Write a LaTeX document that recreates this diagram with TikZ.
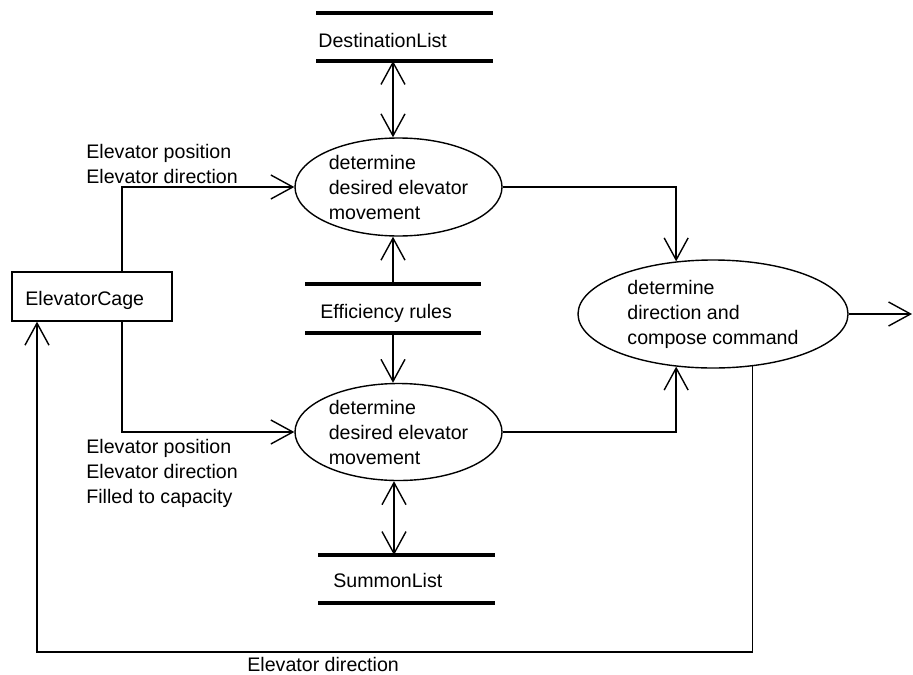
\documentclass[tikz,border=0pt]{standalone}
\usepackage{fontspec}
\setmainfont{Liberation Sans}
\usetikzlibrary{arrows.meta,shapes.geometric}
\tikzset{
  txt/.style={font=\fontsize{9.8pt}{12.5pt}\selectfont, inner sep=0pt, align=left},
  proc/.style={draw, ellipse, line width=0.7pt, inner sep=0pt,
    font=\fontsize{9.8pt}{12.5pt}\selectfont, align=left},
  ext/.style={draw, rectangle, line width=0.7pt, inner sep=0pt},
  storeline/.style={line width=2.4pt},
  flow/.style={line width=0.7pt, -{Straight Barb[length=11pt,width=12pt,line width=0.7pt]}},
  bflow/.style={line width=0.7pt, {Straight Barb[length=11pt,width=12pt,line width=0.7pt]}-{Straight Barb[length=11pt,width=12pt,line width=0.7pt]}}
}
\begin{document}
\begin{tikzpicture}[x=0.5pt,y=-0.5pt]
\useasboundingbox (0,0) rectangle (913,674);

% data stores
\draw[storeline] (316,13) -- (493,13);
\draw[storeline] (316,61) -- (493,61);
\node[txt, anchor=base west] (dest) at (318,47) {DestinationList};
\coordinate (destB) at (393,61);

\draw[storeline] (305,284) -- (481,284);
\draw[storeline] (305,333) -- (481,333);
\node[txt, anchor=base west] (eff) at (320,318) {Efficiency rules};
\coordinate (effT) at (393,284);
\coordinate (effB) at (393,333);

\draw[storeline] (318,555) -- (495,555);
\draw[storeline] (318,603) -- (495,603);
\node[txt, anchor=base west] (summ) at (333,587) {SummonList};
\coordinate (summT) at (394,555);

% external entity
\node[ext, minimum width=80pt, minimum height=24.5pt] (cage) at (92,296.5) {};
\node[txt, anchor=base west] (cagetxt) at (25,305) {ElevatorCage};

% processes
\node[proc, minimum width=103.5pt, minimum height=49pt] (e1) at (398.5,187)
  {determine\\desired elevator\\movement};
\node[proc, minimum width=103.5pt, minimum height=48.5pt] (e2) at (398.5,432)
  {determine\\desired elevator\\movement};
\node[proc, minimum width=135pt, minimum height=54pt] (e3) at (713,314)
  {determine\\direction and\\compose command};

% flows between stores and processes
\draw[bflow] (destB) -- (e1.north -| destB);
\draw[flow] (effT) -- (e1.south -| effT);
\draw[flow] (effB) -- (e2.north -| effB);
\draw[bflow] (e2.south -| summT) -- (summT);

% flows from the cage
\draw[flow] ([xshift=15pt]cage.north) |- (e1.west);
\draw[flow] ([xshift=15pt]cage.south) |- (e2.west);
\node[txt, anchor=base west] (lab1) at (86,183) {Elevator position\\Elevator direction};
\node[txt, anchor=base west] (lab2) at (86,503) {Elevator position\\Elevator direction\\Filled to capacity};

% flows into the command process
\draw[flow] (e1.east) -| (e3.125);
\draw[flow] (e2.east) -| (e3.235);

% command output
\coordinate (out) at (912,314);
\draw[flow] (e3.east) -- (out);

% feedback to the cage
\coordinate (fbc) at (37,652);
\draw[flow] (e3.-53) |- (fbc) -- (cage.south -| fbc);
\node[txt, anchor=base west] (lab3) at (247,671) {Elevator direction};
\end{tikzpicture}
\end{document}
